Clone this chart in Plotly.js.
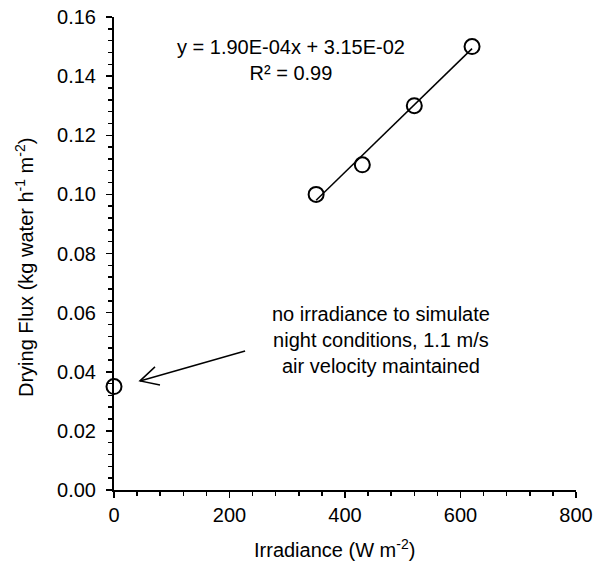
<!DOCTYPE html>
<html>
<head>
<meta charset="utf-8">
<script src="https://cdn.plot.ly/plotly-3.0.1.min.js"></script>
<style>html,body{margin:0;padding:0;background:#fff;}#chart{width:594px;height:563px;}</style>
</head>
<body>
<div id="chart"></div>
<script>
var irradiance = [0, 350, 430, 520, 620];
var dryingFlux = [0.035, 0.100, 0.110, 0.130, 0.150];
var slope = 1.90e-4;
var intercept = 3.15e-2;
var fitX = [350, 620];
var fitY = fitX.map(function (x) { return slope * x + intercept; });
var equationText = 'y = 1.90E-04x + 3.15E-02<br>R² = 0.99';
var noteText = 'no irradiance to simulate<br>night conditions, 1.1 m/s<br>air velocity maintained';
var xTitle = 'Irradiance (W m<sup>-2</sup>)';
var yTitle = 'Drying Flux (kg water h<sup>-1</sup> m<sup>-2</sup>)';

var F = 'Liberation Sans, Arial, sans-serif';
var data = [
  {x: fitX, y: fitY, mode: 'lines', line: {color: '#000', width: 1.5}, hoverinfo: 'skip', showlegend: false},
  {x: irradiance, y: dryingFlux, mode: 'markers', cliponaxis: false,
   marker: {symbol: 'circle-open', size: 15, color: '#000', line: {color: '#000', width: 2}}, showlegend: false}
];
var layout = {
  width: 594, height: 563,
  margin: {l: 114, r: 18, t: 17, b: 73},
  paper_bgcolor: '#fff', plot_bgcolor: '#fff',
  font: {family: F, size: 20, color: '#000'},
  showlegend: false,
  xaxis: {range: [0, 800], dtick: 200, tick0: 0, showgrid: false, zeroline: false,
    showline: true, linecolor: '#000', linewidth: 2, ticks: 'outside', ticklen: 6, tickwidth: 1.5, tickcolor: '#000',
    minor: {dtick: 40, ticks: 'outside', ticklen: 4, tickwidth: 1.5, tickcolor: '#000', showgrid: false},
    tickfont: {size: 20}},
  yaxis: {range: [0, 0.16], dtick: 0.02, tick0: 0, tickformat: '.2f', showgrid: false, zeroline: false,
    showline: true, linecolor: '#000', linewidth: 2, ticks: 'outside', ticklen: 6, tickwidth: 1.5, tickcolor: '#000',
    minor: {dtick: 0.004, ticks: 'outside', ticklen: 4, tickwidth: 1.5, tickcolor: '#000', showgrid: false},
    ticklabelstandoff: 6,
    tickfont: {size: 20}},
  annotations: [
    {x: 306, y: 0.1453, xref: 'x', yref: 'y', text: equationText, showarrow: false, align: 'center',
     font: {size: 20}, xanchor: 'center', yanchor: 'middle'},
    {x: 462, y: 0.0507, xref: 'x', yref: 'y', text: noteText, showarrow: false, align: 'center',
     font: {size: 20}, xanchor: 'center', yanchor: 'middle'},
    {x: 0.4762, y: -0.1247, xref: 'paper', yref: 'paper', text: xTitle, showarrow: false,
     font: {size: 20}, xanchor: 'center', yanchor: 'middle'},
    {x: -0.1948, y: 0.4693, xref: 'paper', yref: 'paper', text: yTitle, showarrow: false, textangle: -90,
     font: {size: 20}, xanchor: 'center', yanchor: 'middle'}
  ],
  shapes: [
    {type: 'line', xref: 'x', yref: 'y', x0: 227, y0: 0.047, x1: 45, y1: 0.0369, line: {color: '#000', width: 1.5}},
    {type: 'path', xref: 'x', yref: 'y', xsizemode: 'pixel', ysizemode: 'pixel', xanchor: 45, yanchor: 0.0369,
     path: 'M15,14 L0,0 L20,-4', line: {color: '#000', width: 1.5}}
  ]
};
Plotly.newPlot('chart', data, layout, {displayModeBar: false, staticPlot: true});
</script>
</body>
</html>
